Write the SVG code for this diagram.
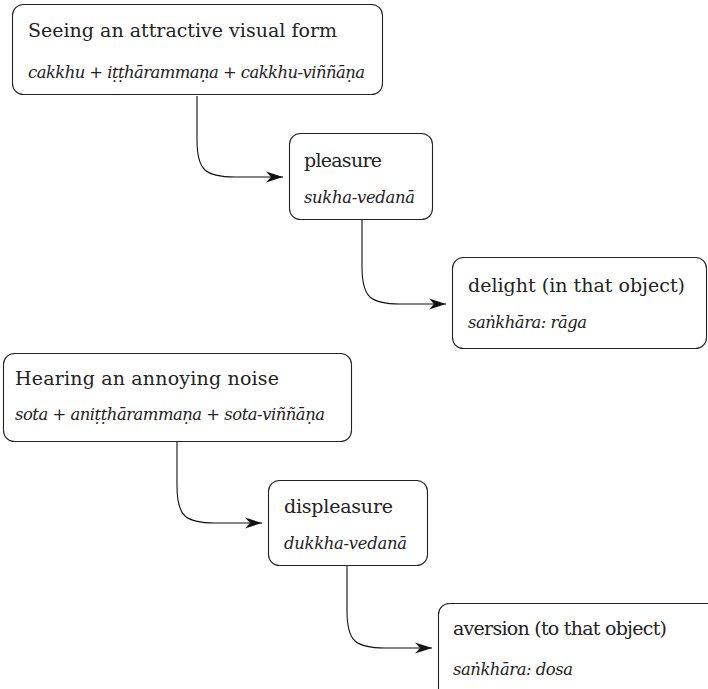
<svg xmlns="http://www.w3.org/2000/svg" width="708" height="689" viewBox="0 0 708 689">
<style>
.box{fill:#fff;stroke:#222;stroke-width:1.1}
.t{font-family:"DejaVu Serif","Liberation Serif",serif;font-size:19px;fill:#222}
.s{font-family:"DejaVu Serif","Liberation Serif",serif;font-size:16.4px;font-style:italic;fill:#222}
.c{fill:none;stroke:#111;stroke-width:1.1}
</style>
<defs>
<marker id="ah" markerUnits="userSpaceOnUse" markerWidth="18" markerHeight="12" refX="17" refY="6" orient="auto">
<path d="M0,0.5 L17,6 L0,11.5 L5,6 Z" fill="#111"/>
</marker>
</defs>
<rect width="708" height="689" fill="#fff"/>
<g id="connectors">
<path class="c" d="M197,96 V140 C197,170 205,177 235,177 H283" marker-end="url(#ah)"/>
<path class="c" d="M362,220 V267 C362,297 370,304 400,304 H446" marker-end="url(#ah)"/>
<path class="c" d="M177,442 V486 C177,516 185,523 215,523 H262" marker-end="url(#ah)"/>
<path class="c" d="M347,566 V611 C347,641 355,648 385,648 H432" marker-end="url(#ah)"/>
</g>
<g id="n1">
<rect class="box" x="12.5" y="4.5" width="370" height="90" rx="11"/>
<text class="t" x="28" y="37" textLength="309" lengthAdjust="spacing">Seeing an attractive visual form</text>
<text class="s" x="28" y="78" textLength="337" lengthAdjust="spacing">cakkhu + iṭṭhārammaṇa + cakkhu-viññāṇa</text>
</g>
<g id="n2">
<rect class="box" x="289.5" y="133.5" width="143" height="86" rx="11"/>
<text class="t" x="304" y="167" textLength="78" lengthAdjust="spacing">pleasure</text>
<text class="s" x="304" y="203" textLength="111" lengthAdjust="spacing">sukha-vedanā</text>
</g>
<g id="n3">
<rect class="box" x="452.5" y="257.5" width="254" height="91" rx="11"/>
<text class="t" x="468" y="292" textLength="217" lengthAdjust="spacing">delight (in that object)</text>
<text class="s" x="468" y="328" textLength="119" lengthAdjust="spacing">saṅkhāra: rāga</text>
</g>
<g id="n4">
<rect class="box" x="3.5" y="353.5" width="348" height="88" rx="11"/>
<text class="t" x="15" y="385" textLength="264" lengthAdjust="spacing">Hearing an annoying noise</text>
<text class="s" x="15" y="420" textLength="310" lengthAdjust="spacing">sota + aniṭṭhārammaṇa + sota-viññāṇa</text>
</g>
<g id="n5">
<rect class="box" x="268.5" y="480.5" width="159" height="85" rx="11"/>
<text class="t" x="284" y="513" textLength="109" lengthAdjust="spacing">displeasure</text>
<text class="s" x="284" y="549" textLength="123" lengthAdjust="spacing">dukkha-vedanā</text>
</g>
<g id="n6">
<rect class="box" x="438.5" y="603.5" width="290" height="96" rx="11"/>
<text class="t" x="453" y="635" textLength="214" lengthAdjust="spacing">aversion (to that object)</text>
<text class="s" x="453" y="675" textLength="120" lengthAdjust="spacing">saṅkhāra: dosa</text>
</g>
</svg>
